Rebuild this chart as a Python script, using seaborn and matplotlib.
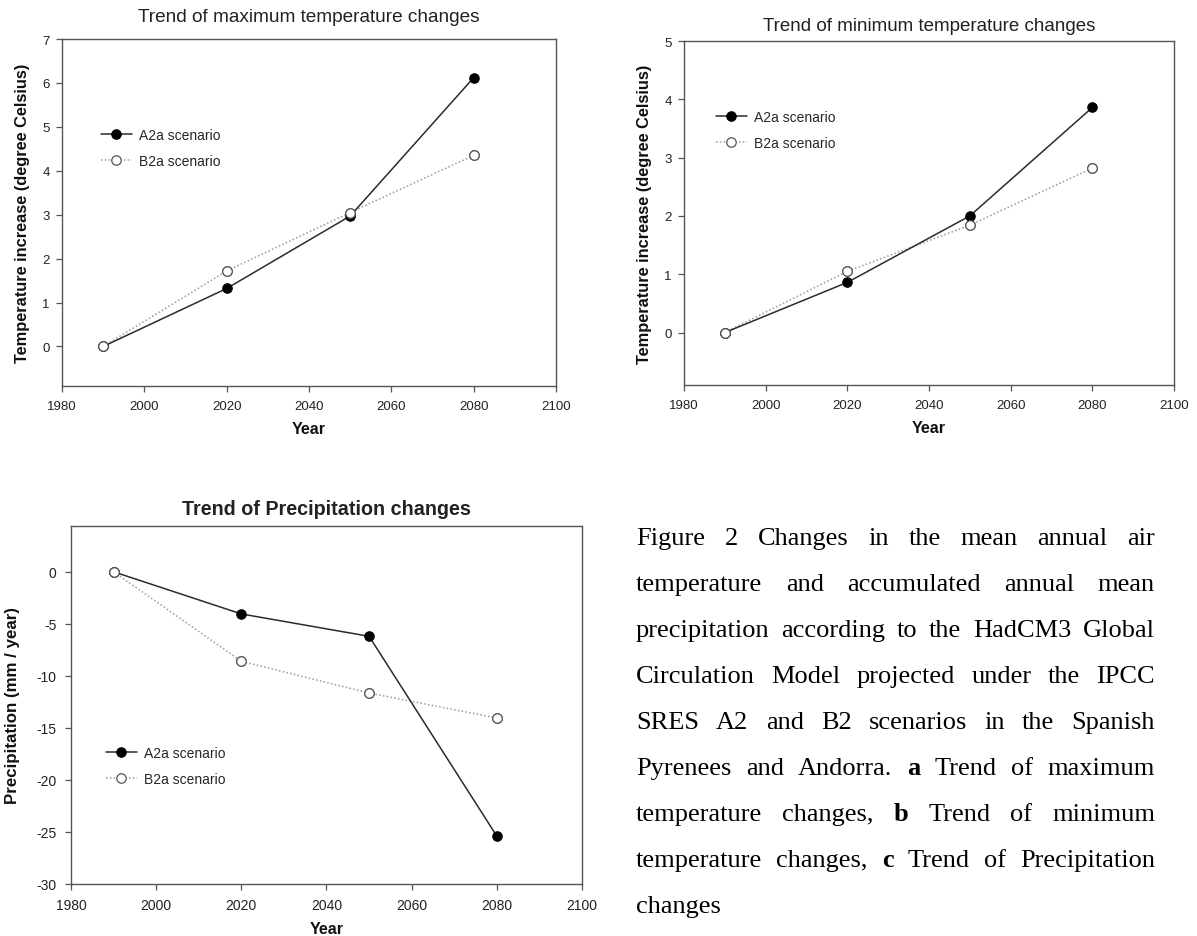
import matplotlib
matplotlib.use("Agg")
import matplotlib.pyplot as plt
from matplotlib.lines import Line2D
import seaborn as sns
import pandas as pd

sns.set_theme(style="white")
plt.rcParams["font.family"] = ["Liberation Sans", "DejaVu Sans"]
plt.rcParams["axes.unicode_minus"] = False

# ---- data -------------------------------------------------------------
years = [1990, 2020, 2050, 2080]
scenarios = ["A2a scenario", "B2a scenario"]

tmax_a2a = [0.0, 1.32, 2.97, 6.12]
tmax_b2a = [0.0, 1.72, 3.05, 4.35]

tmin_a2a = [0.0, 0.86, 2.00, 3.86]
tmin_b2a = [0.0, 1.05, 1.84, 2.82]

prec_a2a = [0.0, -4.05, -6.2, -25.4]
prec_b2a = [0.0, -8.6, -11.65, -14.05]

x_ticks = [1980, 2000, 2020, 2040, 2060, 2080, 2100]
tmax_ticks = [0, 1, 2, 3, 4, 5, 6, 7]
tmin_ticks = [0, 1, 2, 3, 4, 5]
prec_ticks = [0, -5, -10, -15, -20, -25, -30]

caption_lines = [
    [("Figure", 0), ("2", 0), ("Changes", 0), ("in", 0), ("the", 0), ("mean", 0), ("annual", 0), ("air", 0)],
    [("temperature", 0), ("and", 0), ("accumulated", 0), ("annual", 0), ("mean", 0)],
    [("precipitation", 0), ("according", 0), ("to", 0), ("the", 0), ("HadCM3", 0), ("Global", 0)],
    [("Circulation", 0), ("Model", 0), ("projected", 0), ("under", 0), ("the", 0), ("IPCC", 0)],
    [("SRES", 0), ("A2", 0), ("and", 0), ("B2", 0), ("scenarios", 0), ("in", 0), ("the", 0), ("Spanish", 0)],
    [("Pyrenees", 0), ("and", 0), ("Andorra.", 0), ("a", 1), ("Trend", 0), ("of", 0), ("maximum", 0)],
    [("temperature", 0), ("changes,", 0), ("b", 1), ("Trend", 0), ("of", 0), ("minimum", 0)],
    [("temperature", 0), ("changes,", 0), ("c", 1), ("Trend", 0), ("of", 0), ("Precipitation", 0)],
    [("changes", 0)],
]

# ---- styling -----------------------------------------------------------
A2A_STYLE = dict(color="#2b2b2b", linestyle="-", linewidth=1.1,
                 marker="o", markersize=6.8, markerfacecolor="black",
                 markeredgecolor="black", markeredgewidth=0.8)
B2A_STYLE = dict(color="#9a9a9a", linestyle=(0, (1, 1.5)), linewidth=1.1,
                 marker="o", markersize=6.8, markerfacecolor="white",
                 markeredgecolor="#555555", markeredgewidth=0.9)
SPINE = "#555555"
W, H = 1197, 937

fig = plt.figure(figsize=(W / 100, H / 100), dpi=100)


def px_axes(left, top, right, bottom):
    return fig.add_axes([left / W, 1 - bottom / H, (right - left) / W, (bottom - top) / H])


def draw_panel(ax, a2a, b2a, ylim, yticks, title, title_weight, title_size,
               title_pad, ylabel, ylabel_size, ylabel_pad, tick_size,
               xtick_pad, ytick_pad, xlabel_pad, legend_px):
    df = pd.DataFrame({
        "Year": years * 2,
        "value": list(a2a) + list(b2a),
        "scenario": [scenarios[0]] * len(years) + [scenarios[1]] * len(years),
    })
    sub_a = df[df["scenario"] == scenarios[0]]
    sub_b = df[df["scenario"] == scenarios[1]]
    sns.lineplot(data=sub_b, x="Year", y="value", ax=ax, zorder=2, **B2A_STYLE)
    sns.lineplot(data=sub_a, x="Year", y="value", ax=ax, zorder=3, **A2A_STYLE)
    # hollow markers sit above the solid line where the two series meet
    sns.scatterplot(data=sub_b, x="Year", y="value", ax=ax, s=47, zorder=4,
                    facecolor="white", edgecolor="#555555", linewidth=0.9)

    ax.set_xlim(1980, 2100)
    ax.set_ylim(*ylim)
    ax.set_xticks(x_ticks)
    ax.set_yticks(yticks)
    ax.tick_params(axis="both", direction="out", length=4, width=0.9,
                   color=SPINE, labelsize=tick_size, labelcolor="#222222",
                   left=True, bottom=True)
    ax.tick_params(axis="x", pad=xtick_pad)
    ax.tick_params(axis="y", pad=ytick_pad)
    for s in ax.spines.values():
        s.set_color(SPINE)
        s.set_linewidth(1.0)
    ax.set_xlabel("Year", fontsize=11.6, fontweight="bold", labelpad=xlabel_pad,
                  color="#111111")
    ax.set_ylabel(ylabel, fontsize=ylabel_size, fontweight="bold",
                  labelpad=ylabel_pad, color="#111111")
    ax.set_title(title, fontsize=title_size, fontweight=title_weight,
                 pad=title_pad, color="#222222")

    handles = [Line2D([], [], **A2A_STYLE), Line2D([], [], **B2A_STYLE)]
    lx, ly = legend_px
    ax.legend(handles, scenarios, loc="upper left",
              bbox_to_anchor=(lx / W, 1 - ly / H), bbox_transform=fig.transFigure,
              frameon=False, fontsize=10, handlelength=2.2, handletextpad=0.55,
              labelspacing=0.85, borderaxespad=0, borderpad=0)


ax_a = px_axes(62, 40, 556, 387)
draw_panel(ax_a, tmax_a2a, tmax_b2a, (-0.9, 7), tmax_ticks,
           "Trend of maximum temperature changes", "normal", 13.7, 13,
           "Temperature increase (degree Celsius)", 11.8, 9, 9.5,
           6.3, 4.7, 6, (101, 129))

ax_b = px_axes(684, 42, 1174, 386)
draw_panel(ax_b, tmin_a2a, tmin_b2a, (-0.9, 5), tmin_ticks,
           "Trend of minimum temperature changes", "normal", 13.5, 8,
           "Temperature increase (degree Celsius)", 11.8, 9, 9.5,
           6.3, 4.7, 6, (716, 111))

ax_c = px_axes(71, 527, 582, 885)
draw_panel(ax_c, prec_a2a, prec_b2a, (-30, 4.4), prec_ticks,
           "Trend of Precipitation changes", "bold", 14.2, 8.6,
           "Precipitation (mm / year)", 12.2, 12, 10,
           5.8, 6.3, 6.5, (106, 747))

# ---- justified caption -------------------------------------------------
cap_left, cap_right = 636, 1155
first_baseline, line_step = 545, 46.0
cap_size = 19
fig.canvas.draw()
renderer = fig.canvas.get_renderer()
for i, line in enumerate(caption_lines):
    y = 1 - (first_baseline + i * line_step) / H
    texts = []
    for word, bold in line:
        t = fig.text(0, y, word, fontsize=cap_size,
                     family=["Liberation Serif", "DejaVu Serif"],
                     fontweight="bold" if bold else "normal",
                     va="baseline", ha="left", color="black")
        texts.append(t)
    widths = [t.get_window_extent(renderer).width for t in texts]
    if len(texts) > 1 and i < len(caption_lines) - 1:
        gap = (cap_right - cap_left - sum(widths)) / (len(texts) - 1)
    else:
        gap = cap_size * 0.35
    x = cap_left
    for t, w in zip(texts, widths):
        t.set_x(x / W)
        x += w + gap

fig.savefig("out.png", dpi=100, facecolor="white")
